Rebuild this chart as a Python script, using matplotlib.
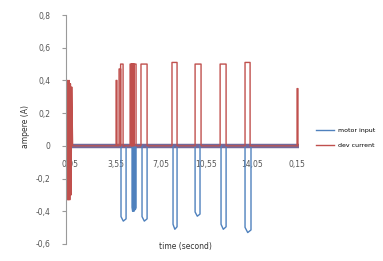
import numpy as np
import matplotlib
matplotlib.use('Agg')
import matplotlib.pyplot as plt

# x ticks (category labels as printed on the chart)
tick_t = [0.05, 3.55, 7.05, 10.55, 14.05, 17.55]
tick_lab = ['0,05', '3,55', '7,05', '10,55', '14,05', '0,15']
y_ticks = [0.8, 0.6, 0.4, 0.2, 0.0, -0.2, -0.4, -0.6]
y_lab = ['0,8', '0,6', '0,4', '0,2', '0', '-0,2', '-0,4', '-0,6']

# red series: pulses (start, end, level)
red_start = [3.60, 3.83, 3.95, 4.68, 4.78, 4.88, 4.98, 5.52, 7.91, 9.69, 11.62, 13.54, 17.55]
red_end   = [3.67, 3.95, 4.14, 4.78, 4.88, 4.98, 5.14, 5.99, 8.30, 10.15, 12.08, 13.93, 17.62]
red_level = [0.40, 0.47, 0.50, 0.50, 0.50, 0.50, 0.50, 0.50, 0.51, 0.50, 0.50, 0.51, 0.35]
# red spike at the very beginning
red_head_t = [-0.22, -0.17, -0.12, -0.07, -0.02, 0.03, 0.08, 0.13, 0.18, 0.25]
red_head_v = [0.40, -0.33, 0.40, -0.33, 0.40, -0.33, 0.38, -0.30, 0.36, 0.0]

# blue series: pulses (start, end, bottom)
blue_start  = [3.98, 4.83, 4.93, 5.03, 5.60, 7.99, 9.69, 11.69, 13.54]
blue_end    = [4.37, 4.93, 5.03, 5.14, 5.99, 8.30, 10.07, 12.08, 14.00]
blue_bottom = [-0.46, -0.40, -0.40, -0.39, -0.46, -0.51, -0.43, -0.51, -0.53]

t_first, t_last = 0.25, 17.50


def pulses(starts, ends, levels, taper=0.0):
    xs, ys = [t_first], [0.0]
    for s, e, v in zip(starts, ends, levels):
        xs += [s, s]
        ys += [0.0, v - taper * v]
        if taper:
            xs += [s + 0.45 * (e - s)]
            ys += [v]
        xs += [e, e]
        ys += [v - taper * v * 0.5, 0.0]
    return xs, ys


bx, by = pulses(blue_start, blue_end, blue_bottom, taper=0.06)
bx = [red_head_t[0]] + bx + [t_last + 0.1]
by = [0.0] + by + [0.0]
rx, ry = pulses(red_start, red_end, red_level)
rx = red_head_t + rx[1:]
ry = red_head_v + ry[1:]

fig = plt.figure(figsize=(3.83, 2.61), dpi=100)
ax = fig.add_axes([66 / 383, 1 - 244 / 261, (299 - 66) / 383, (244 - 15) / 261])

ax.plot(bx, by, color='#4F81BD', lw=1.0, label='motor input')
ax.plot(rx, ry, color='#C0504D', lw=1.0, label='dev current')
ax.plot([red_head_t[0], t_last + 0.1], [0, 0], color='#74689A', lw=3.2, zorder=1.5)

ax.set_xlim(-0.26, 17.7)
ax.set_ylim(-0.6, 0.8)
ax.set_yticks(y_ticks)
ax.set_yticklabels(y_lab)
ax.set_xticks(tick_t)
ax.set_xticklabels(tick_lab)

for s in ['top', 'right']:
    ax.spines[s].set_visible(False)
ax.spines['left'].set_color('#9a9a9a')
ax.spines['bottom'].set_position(('data', 0))
ax.spines['bottom'].set_visible(False)
ax.tick_params(axis='y', length=3, color='#9a9a9a', labelsize=5.5, labelcolor='#555555', pad=8)
ax.tick_params(axis='x', length=0, labelsize=5.5, labelcolor='#555555', pad=10)

fig.text(25 / 383, 1 - 127 / 261, 'ampere (A)', rotation=90, ha='center', va='center',
         fontsize=5.5, color='#333333')
fig.text(185 / 383, 1 - 247 / 261, 'time (second)', ha='center', va='center',
         fontsize=5.5, color='#333333')

ax.legend(loc='center left', bbox_to_anchor=(310 / 383, 1 - 138 / 261),
          bbox_transform=fig.transFigure, frameon=False, fontsize=4.5,
          handlelength=3, labelspacing=1.6, handletextpad=0.6)

plt.savefig('out.png', dpi=100)
